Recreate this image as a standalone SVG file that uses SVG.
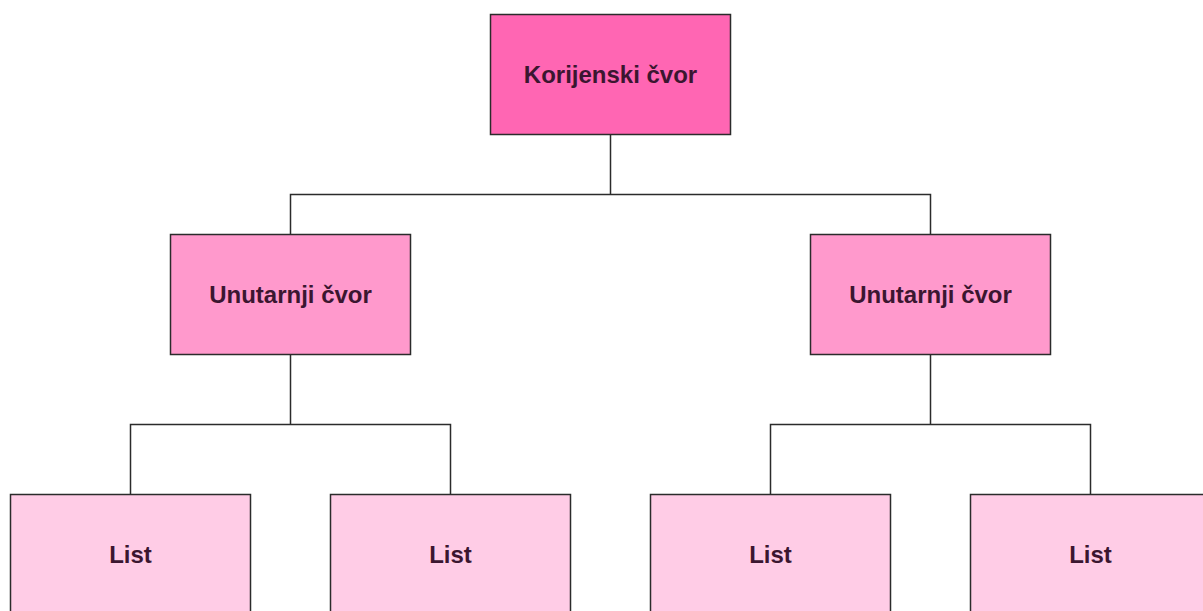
<svg xmlns="http://www.w3.org/2000/svg" width="1203" height="611" viewBox="0 0 1203 611">
  <style>
    .box { stroke: #2b2b2b; stroke-width: 1.5; }
    .root { fill: #FF66B3; }
    .inner { fill: #FF99CC; }
    .leaf { fill: #FFCCE6; }
    .lbl { font-family: "Liberation Sans", Arial, sans-serif; font-weight: bold; font-size: 24px; fill: #3b1630; text-anchor: middle; }
    .conn { fill: none; stroke: #2b2b2b; stroke-width: 1.5; }
  </style>
  <rect width="1203" height="611" fill="#ffffff"/>
  <g id="connectors">
    <path class="conn" d="M610.5 134.5 V194.5 M290.5 234.5 V194.5 H930.5 V234.5"/>
    <path class="conn" d="M290.5 354.5 V424.5 M130.5 494.5 V424.5 H450.5 V494.5"/>
    <path class="conn" d="M930.5 354.5 V424.5 M770.5 494.5 V424.5 H1090.5 V494.5"/>
  </g>
  <g id="root">
    <rect class="box root" x="490.5" y="14.5" width="240" height="120"/>
    <text class="lbl" x="610.5" y="82.5">Korijenski čvor</text>
  </g>
  <g id="inner-left">
    <rect class="box inner" x="170.5" y="234.5" width="240" height="120"/>
    <text class="lbl" x="290.5" y="302.5">Unutarnji čvor</text>
  </g>
  <g id="inner-right">
    <rect class="box inner" x="810.5" y="234.5" width="240" height="120"/>
    <text class="lbl" x="930.5" y="302.5">Unutarnji čvor</text>
  </g>
  <g id="leaf-1">
    <rect class="box leaf" x="10.5" y="494.5" width="240" height="120"/>
    <text class="lbl" x="130.5" y="562.5">List</text>
  </g>
  <g id="leaf-2">
    <rect class="box leaf" x="330.5" y="494.5" width="240" height="120"/>
    <text class="lbl" x="450.5" y="562.5">List</text>
  </g>
  <g id="leaf-3">
    <rect class="box leaf" x="650.5" y="494.5" width="240" height="120"/>
    <text class="lbl" x="770.5" y="562.5">List</text>
  </g>
  <g id="leaf-4">
    <rect class="box leaf" x="970.5" y="494.5" width="240" height="120"/>
    <text class="lbl" x="1090.5" y="562.5">List</text>
  </g>
</svg>
